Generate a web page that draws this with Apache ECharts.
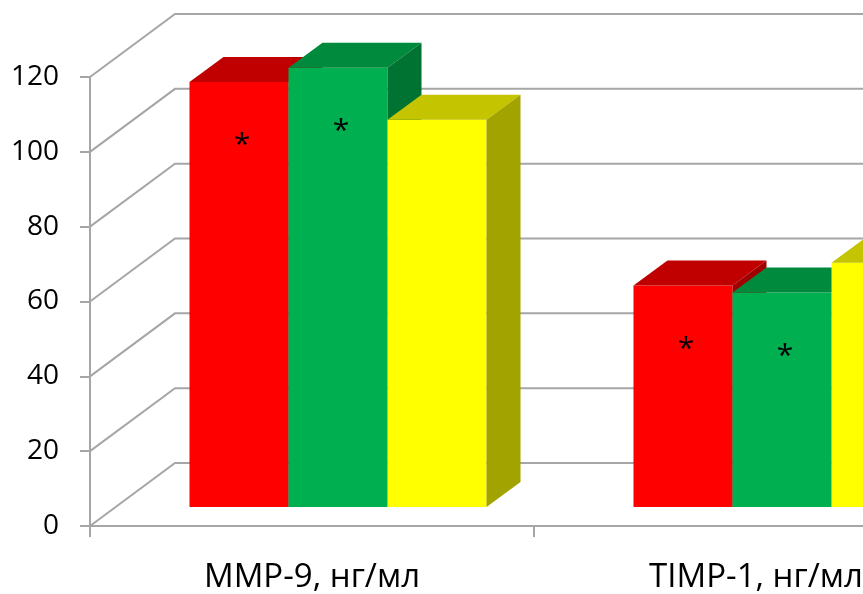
<!DOCTYPE html>
<html>
<head>
<meta charset="utf-8">
<script src="https://cdn.jsdelivr.net/npm/echarts@6/dist/echarts.min.js"></script>
<style>
html,body{margin:0;padding:0;background:#fff;overflow:hidden;width:863px;height:594px;}
#chart{width:1000px;height:594px;}
</style>
</head>
<body>
<div id="chart"></div>
<script>
// ---- data ----
const categories = ['MMP-9, нг/мл', 'TIMP-1, нг/мл'];
const seriesNames = ['Ряд 1', 'Ряд 2', 'Ряд 3'];
const redValues = [113.6, 59.2];
const greenValues = [117.4, 57.3];
const yellowValues = [103.5, 65.3];
const redMarks = ['*', '*'];
const greenMarks = ['*', '*'];
const yellowMarks = ['', ''];
const yTicks = [0, 20, 40, 60, 80, 100, 120];

// ---- styling constants ----
const FONT = '"Open Sans", "Liberation Sans", sans-serif';
const GRID_COLOR = '#a6a6a6';
const WALL_DX = 85, WALL_DY = 63;   // depth of back wall
const BAR_DX = 26, BAR_DY = 19;     // bar front plane offset
const BAR_DEPTH_X = 34, BAR_DEPTH_Y = 25;
const BAR_FRAC = 0.223;

const palette = [
  { front: '#FF0000', top: '#C00000', side: '#A00000' },
  { front: '#00B050', top: '#008A3E', side: '#007333' },
  { front: '#FFFF00', top: '#C4C400', side: '#A3A300' }
];

function toData(values, marks) {
  return values.map((v, i) => [i, v, marks[i]]);
}

function barRenderer(slot, colors) {
  return function (params, api) {
    const ci = api.value(0);
    const v = api.value(1);
    const mark = api.value(2);
    const base = api.coord([ci, 0]);
    const top = api.coord([ci, v]);
    const band = api.size([1, 0])[0];
    const bw = band * BAR_FRAC;
    const cx = base[0] + BAR_DX + (slot - 1) * bw;
    const x0 = cx - bw / 2, x1 = cx + bw / 2;
    const yb = base[1] - BAR_DY, yt = top[1] - BAR_DY;
    const children = [
      { type: 'rect', shape: { x: x0, y: yt, width: bw, height: yb - yt },
        style: { fill: colors.front } },
      { type: 'polygon', shape: { points: [[x0, yt], [x1, yt], [x1 + BAR_DEPTH_X, yt - BAR_DEPTH_Y], [x0 + BAR_DEPTH_X, yt - BAR_DEPTH_Y]] },
        style: { fill: colors.top } },
      { type: 'polygon', shape: { points: [[x1, yt], [x1 + BAR_DEPTH_X, yt - BAR_DEPTH_Y], [x1 + BAR_DEPTH_X, yb - BAR_DEPTH_Y], [x1, yb]] },
        style: { fill: colors.side } }
    ];
    if (mark) {
      children.push({ type: 'text', style: { text: mark, x: cx + 3, y: yt + 64,
        font: '30px ' + FONT, fill: '#000', align: 'center', verticalAlign: 'middle' } });
    }
    return { type: 'group', children: children };
  };
}

function wallRenderer(params, api) {
  const cs = params.coordSys;
  const y = api.coord([0, api.value(1)])[1];
  const L = cs.x;
  return {
    type: 'polyline',
    shape: { points: [[L, y], [L + WALL_DX, y - WALL_DY], [L + cs.width + WALL_DX + 100, y - WALL_DY]] },
    style: { stroke: GRID_COLOR, lineWidth: 2, fill: null }
  };
}

const chart = echarts.init(document.getElementById('chart'), null, { renderer: 'canvas' });
const valueSets = [redValues, greenValues, yellowValues];
const markSets = [redMarks, greenMarks, yellowMarks];

const series = [{
  type: 'custom',
  name: 'wall',
  renderItem: wallRenderer,
  data: yTicks.map(v => [0, v]),
  encode: { x: 0, y: 1 },
  silent: true,
  z: 1
}];
valueSets.forEach((vals, k) => {
  series.push({
    type: 'custom',
    name: seriesNames[k],
    renderItem: barRenderer(k, palette[k]),
    data: toData(vals, markSets[k]),
    encode: { x: 0, y: 1 },
    z: 2 + k
  });
});

chart.setOption({
  backgroundColor: '#fff',
  animation: false,
  grid: { left: 90, top: 77, width: 888, height: 452 },
  xAxis: {
    type: 'category',
    data: categories,
    axisLine: { show: true, lineStyle: { color: GRID_COLOR, width: 2 } },
    axisTick: { show: true, length: 11, lineStyle: { color: GRID_COLOR, width: 2 } },
    axisLabel: { color: '#000', fontSize: 33, fontFamily: FONT, margin: 35 },
    splitLine: { show: false }
  },
  yAxis: {
    type: 'value',
    min: 0, max: 120, interval: 20,
    axisLine: { show: true, lineStyle: { color: GRID_COLOR, width: 2 } },
    axisTick: { show: true, length: 10, lineStyle: { color: GRID_COLOR, width: 2 } },
    axisLabel: { color: '#000', fontSize: 28, fontFamily: FONT, margin: 31, padding: [4, 0, 0, 0] },
    splitLine: { show: false }
  },
  series: series
});
</script>
</body>
</html>
